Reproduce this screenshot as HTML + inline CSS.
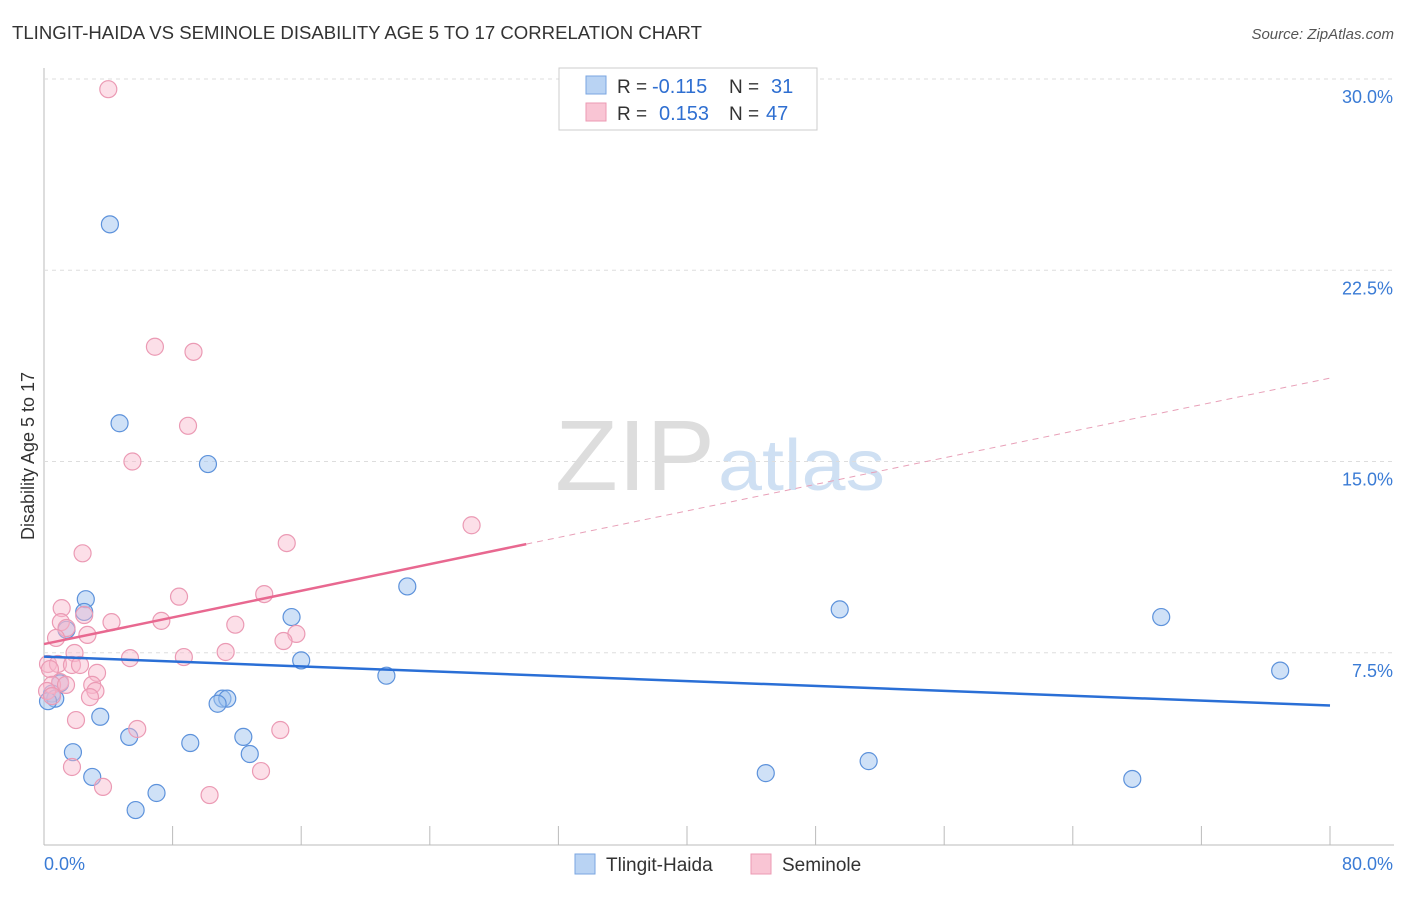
<!DOCTYPE html>
<html><head><meta charset="utf-8"><style>
body{margin:0;background:#fff;font-family:"Liberation Sans",sans-serif;}
svg text{font-family:"Liberation Sans",sans-serif;}
</style></head><body>
<svg id="c" width="1406" height="892">
<text x="12" y="39" font-size="18" fill="#333" textLength="690" lengthAdjust="spacingAndGlyphs">TLINGIT-HAIDA VS SEMINOLE DISABILITY AGE 5 TO 17 CORRELATION CHART</text>
<text x="1394" y="39" font-size="15" fill="#555" font-style="italic" text-anchor="end">Source: ZipAtlas.com</text>
<text x="555" y="490" font-size="100" fill="#ddd" font-family="Liberation Serif" textLength="160" lengthAdjust="spacingAndGlyphs">ZIP</text>
<text x="718" y="490" font-size="72" fill="#cfe0f3" textLength="167" lengthAdjust="spacingAndGlyphs">atlas</text>
<text transform="translate(34,456) rotate(-90)" font-size="18" fill="#333" text-anchor="middle">Disability Age 5 to 17</text>
<g id="grid"></g><g id="marks"></g>
<g>
<rect x="559" y="68" width="258" height="62" fill="#fff" stroke="#ccc"/>
<rect x="586" y="76" width="20" height="18" fill="#b9d3f3" stroke="#7aa6e0"/>
<rect x="586" y="103" width="20" height="18" fill="#f9c5d4" stroke="#ec9ab3"/>
<text x="617" y="93" font-size="19" fill="#333">R =</text>
<text x="652" y="93" font-size="20" fill="#2f6fd1">-0.115</text>
<text x="729" y="93" font-size="19" fill="#333">N =</text>
<text x="771" y="93" font-size="20" fill="#2f6fd1">31</text>
<text x="617" y="120" font-size="19" fill="#333">R =</text>
<text x="659" y="120" font-size="20" fill="#2f6fd1">0.153</text>
<text x="729" y="120" font-size="19" fill="#333">N =</text>
<text x="766" y="120" font-size="20" fill="#2f6fd1">47</text>
</g>
<g>
<rect x="575" y="854" width="20" height="20" fill="#b9d3f3" stroke="#7aa6e0"/>
<text x="606" y="871" font-size="19" fill="#333">Tlingit-Haida</text>
<rect x="751" y="854" width="20" height="20" fill="#f9c5d4" stroke="#ec9ab3"/>
<text x="782" y="871" font-size="19" fill="#333">Seminole</text>
</g>
</svg>
<script>
const yTicks=[7.5,15,22.5,30];
const yTickLabels=["7.5%","15.0%","22.5%","30.0%"];
const blueX=[4.1,4.7,10.2,2.6,2.5,1.4,15.4,22.6,16.0,21.3,49.5,69.5,76.9,1.0,0.5,0.7,0.25,11.1,11.4,10.8,3.5,5.3,12.4,9.1,1.8,12.8,3.0,7.0,5.7,44.9,51.3,67.7];
const blueY=[24.3,16.5,14.9,9.6,9.1,8.4,8.9,10.1,7.2,6.6,9.2,8.9,6.8,6.3,5.9,5.7,5.6,5.7,5.7,5.5,4.99,4.2,4.2,3.96,3.6,3.53,2.63,2.0,1.33,2.78,3.25,2.55];
const pinkX=[4.0,6.9,9.3,8.96,5.5,26.6,2.4,15.1,13.7,8.4,1.1,2.5,1.05,4.2,7.3,11.9,15.7,1.4,0.75,2.7,14.9,11.3,1.9,5.35,8.7,0.25,0.87,1.74,2.24,3.3,0.37,1.0,3.0,0.5,1.37,3.2,2.86,0.19,1.99,5.8,14.7,1.74,3.67,13.5,10.3,0.5];
const pinkY=[29.6,19.5,19.3,16.4,15.0,12.5,11.4,11.8,9.8,9.7,9.25,8.98,8.7,8.7,8.75,8.6,8.24,8.47,8.08,8.2,7.96,7.53,7.49,7.29,7.33,7.06,7.06,7.02,7.02,6.71,6.86,6.35,6.24,6.24,6.24,6.0,5.76,6.0,4.86,4.51,4.47,3.02,2.24,2.86,1.92,5.8];
const blueLine=[[0,7.35],[80,5.43]];
const pinkLine=[[0,7.84],[30,11.76]];
const pinkDash=[[30,11.76],[80,18.27]];
const X=v=>44+v*(1286/80), Y=v=>844-v*25.5;
const NS="http://www.w3.org/2000/svg";
const grid=document.getElementById('grid'), marks=document.getElementById('marks');
function mk(tag,at,p){const e=document.createElementNS(NS,tag);for(const k in at)e.setAttribute(k,at[k]);p.appendChild(e);return e;}
let ax=mk('line',{x1:44,y1:68,x2:44,y2:845,stroke:'#bbb'},grid);


let bx=mk('line',{x1:44,y1:845,x2:1394,y2:845,stroke:'#bbb'},grid);


yTicks.forEach((t,i)=>{
 let g=mk('line',{x1:44,x2:1394,y1:Y(t),y2:Y(t),stroke:'#ddd','stroke-dasharray':'4,4'},grid);
 
 
 let tx=mk('text',{x:1393,y:Y(t)+24,'font-size':18,fill:'#3a7bd5','text-anchor':'end'},grid);
 tx.textContent=yTickLabels[i];
 
 
});
for(let i=0;i<=10;i++){let t=mk('line',{x1:X(i*8),x2:X(i*8),y1:826,y2:845,stroke:'#bbb'},grid);
 
 }
let l0=mk('text',{x:44,y:870,'font-size':18,fill:'#3a7bd5'},grid);l0.textContent='0.0%';


let l1=mk('text',{x:1393,y:870,'font-size':18,fill:'#3a7bd5','text-anchor':'end'},grid);l1.textContent='80.0%';


blueX.forEach((v,i)=>{let c=mk('circle',{cx:X(v),cy:Y(blueY[i]),r:8.5,fill:'rgba(160,195,240,0.5)',stroke:'#5d92db','stroke-width':1.2},marks);
 
 });
pinkX.forEach((v,i)=>{let c=mk('circle',{cx:X(v),cy:Y(pinkY[i]),r:8.5,fill:'rgba(248,185,205,0.45)',stroke:'#eb9ab4','stroke-width':1.2},marks);
 
 });
let a=mk('line',{x1:X(blueLine[0][0]),y1:Y(blueLine[0][1]),x2:X(blueLine[1][0]),y2:Y(blueLine[1][1]),stroke:'#2a6fd6','stroke-width':2.5},marks);


let b=mk('line',{x1:X(pinkLine[0][0]),y1:Y(pinkLine[0][1]),x2:X(pinkLine[1][0]),y2:Y(pinkLine[1][1]),stroke:'#e86890','stroke-width':2.5},marks);


let d=mk('line',{x1:X(pinkDash[0][0]),y1:Y(pinkDash[0][1]),x2:X(pinkDash[1][0]),y2:Y(pinkDash[1][1]),stroke:'#e8a0b8','stroke-width':1,'stroke-dasharray':'6,5'},marks);


</script>
</body></html>
